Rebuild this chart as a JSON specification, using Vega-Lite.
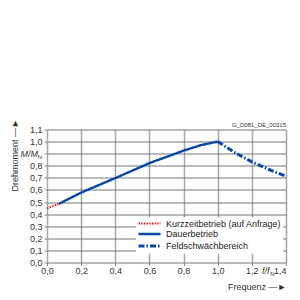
{
  "$schema": "https://vega.github.io/schema/vega-lite/v6.json",
  "autosize": "none",
  "width": 239,
  "height": 133,
  "padding": {"left": 47, "top": 129.5, "right": 14, "bottom": 37.5},
  "background": "white",
  "config": {
    "font": "Liberation Sans",
    "view": {"stroke": null},
    "axis": {"labelFont": "Liberation Sans", "labelFontSize": 9, "labelColor": "#333", "titleFont": "Liberation Sans", "titleFontSize": 9, "titleFontWeight": "normal", "titleColor": "#333", "labelOverlap": false}
  },
  "datasets": {
    "curves": [
      {"f": 0.0, "m": 0.448, "series": "Kurzzeitbetrieb (auf Anfrage)"},
      {"f": 0.07, "m": 0.485, "series": "Kurzzeitbetrieb (auf Anfrage)"},
      {"f": 0.07, "m": 0.485, "series": "Dauerbetrieb"},
      {"f": 0.2, "m": 0.578, "series": "Dauerbetrieb"},
      {"f": 0.4, "m": 0.698, "series": "Dauerbetrieb"},
      {"f": 0.6, "m": 0.822, "series": "Dauerbetrieb"},
      {"f": 0.8, "m": 0.925, "series": "Dauerbetrieb"},
      {"f": 0.9, "m": 0.97, "series": "Dauerbetrieb"},
      {"f": 1.0, "m": 1.0, "series": "Dauerbetrieb"},
      {"f": 1.0, "m": 1.0, "series": "Feldschwächbereich"},
      {"f": 1.1, "m": 0.909, "series": "Feldschwächbereich"},
      {"f": 1.2, "m": 0.833, "series": "Feldschwächbereich"},
      {"f": 1.3, "m": 0.769, "series": "Feldschwächbereich"},
      {"f": 1.4, "m": 0.714, "series": "Feldschwächbereich"}
    ]
  },
  "layer": [
    {
      "data": {"name": "curves"},
      "mark": {"type": "line", "clip": true},
      "encoding": {
        "x": {
          "field": "f", "type": "quantitative",
          "scale": {"domain": [0, 1.4], "nice": false},
          "axis": {
            "values": [0, 0.2, 0.4, 0.6, 0.8, 1.0, 1.2, 1.4], "tickCount": 20,
            "labelExpr": "replace(format(datum.value, '.1f'), '.', ',')",
            "labelAlign": {"condition": {"test": "datum.value > 1.35", "value": "right"}, "value": "center"},
            "grid": true, "gridColor": "#aaaaaa", "gridWidth": 1.6,
            "domain": false, "tickSize": 3, "tickColor": "#888", "labelPadding": 1,
            "title": "Frequenz —►", "titleAnchor": "end", "titleAlign": "right",
            "titleX": 239, "titleY": 24, "titleBaseline": "middle"
          }
        },
        "y": {
          "field": "m", "type": "quantitative",
          "scale": {"domain": [0, 1.1], "nice": false},
          "axis": {
            "values": [0, 0.1, 0.2, 0.3, 0.4, 0.5, 0.6, 0.7, 0.8, 0.9, 1.0, 1.1], "tickCount": 20,
            "labelExpr": "datum.value > 0.85 && datum.value < 0.95 ? '' : replace(format(datum.value, '.1f'), '.', ',')",
            "grid": true, "gridColor": "#777777", "gridWidth": 1,
            "domain": false, "tickSize": 3, "tickColor": "#888", "labelPadding": 2,
            "title": "Drehmoment —►", "titleAngle": -90, "titleAlign": "right",
            "titleBaseline": "middle", "titleX": -33, "titleY": -11
          }
        },
        "color": {
          "field": "series", "type": "nominal",
          "scale": {"domain": ["Kurzzeitbetrieb (auf Anfrage)", "Dauerbetrieb", "Feldschwächbereich"], "range": ["#e8141c", "#0a47a8", "#0a47a8"]},
          "legend": {
            "title": null, "orient": "none", "legendX": 89, "legendY": 88,
            "fillColor": "white", "padding": 1, "symbolType": "M-2.75,0H2.75", "symbolSize": 64,
            "labelFont": "Liberation Sans", "labelFontSize": 9, "labelColor": "#222",
            "rowPadding": 0, "symbolOffset": 7, "labelOffset": 11, "offset": 0
          }
        },
        "strokeDash": {
          "field": "series", "type": "nominal",
          "scale": {"domain": ["Kurzzeitbetrieb (auf Anfrage)", "Dauerbetrieb", "Feldschwächbereich"], "range": [[1.5, 1.2], [1, 0], [6, 2, 1.5, 2]]}
        },
        "strokeWidth": {
          "field": "series", "type": "nominal",
          "scale": {"domain": ["Kurzzeitbetrieb (auf Anfrage)", "Dauerbetrieb", "Feldschwächbereich"], "range": [1.8, 3, 2]}
        }
      }
    },
    {
      "data": {"values": [{"f": 0, "m": 0.9, "t": "M/M"}]},
      "mark": {"type": "text", "align": "right", "baseline": "middle", "fontStyle": "italic", "fontSize": 9, "dx": -9, "color": "#333"},
      "encoding": {"x": {"field": "f", "type": "quantitative"}, "y": {"field": "m", "type": "quantitative"}, "text": {"field": "t"}}
    },
    {
      "data": {"values": [{"f": 0, "m": 0.9, "t": "N"}]},
      "mark": {"type": "text", "align": "right", "baseline": "middle", "fontSize": 6, "dx": -5, "dy": 3, "color": "#333"},
      "encoding": {"x": {"field": "f", "type": "quantitative"}, "y": {"field": "m", "type": "quantitative"}, "text": {"field": "t"}}
    },
    {
      "data": {"values": [{"f": 1.3, "m": 0, "t": "f/f"}]},
      "mark": {"type": "text", "align": "right", "baseline": "middle", "fontStyle": "italic", "fontSize": 9, "dx": 0.5, "dy": 8.5, "color": "#333"},
      "encoding": {"x": {"field": "f", "type": "quantitative"}, "y": {"field": "m", "type": "quantitative"}, "text": {"field": "t"}}
    },
    {
      "data": {"values": [{"f": 1.3, "m": 0, "t": "N"}]},
      "mark": {"type": "text", "align": "left", "baseline": "middle", "fontSize": 6, "dx": 1.3, "dy": 11, "color": "#333"},
      "encoding": {"x": {"field": "f", "type": "quantitative"}, "y": {"field": "m", "type": "quantitative"}, "text": {"field": "t"}}
    },
    {
      "data": {"values": [{"f": 1.4, "m": 1.1, "t": "G_D081_DE_00315"}]},
      "mark": {"type": "text", "align": "right", "baseline": "bottom", "fontSize": 6, "dy": -2, "color": "#333"},
      "encoding": {"x": {"field": "f", "type": "quantitative"}, "y": {"field": "m", "type": "quantitative"}, "text": {"field": "t"}}
    }
  ]
}
